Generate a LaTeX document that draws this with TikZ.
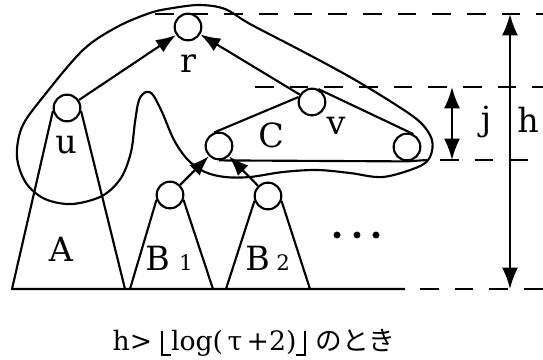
\documentclass[tikz,border=0pt]{standalone}
\usepackage{fontspec}
\setmainfont{DejaVu Serif}
\newfontfamily\jpfont{Noto Sans CJK JP}
\usepackage{tikz}
\usetikzlibrary{arrows.meta, positioning}
\newcommand{\flooropen}{\rule[-4pt]{1.2pt}{19pt}\rule[-4pt]{6pt}{1.2pt}}
\newcommand{\floorclose}{\rule[-4pt]{6pt}{1.2pt}\rule[-4pt]{1.2pt}{19pt}}
\tikzset{
  vtx/.style={circle, draw, line width=1.6pt, minimum size=20pt, inner sep=0pt},
  lbl/.style={font=\fontsize{25}{27}\selectfont, inner sep=0pt},
  line/.style={line width=1.6pt},
  edge/.style={line width=1.6pt, -{Latex[length=15pt,width=11pt]}},
  guide/.style={line width=1.6pt, dash pattern=on 14pt off 12pt},
  measure/.style={line width=1.6pt, {Latex[length=16pt,width=12pt]}-{Latex[length=16pt,width=12pt]}}
}

\begin{document}
\begin{tikzpicture}[x=0.75pt, y=-0.75pt, line join=round]
  \useasboundingbox (0,0) rectangle (543,360);

  % --- Sommets ---
  \node[vtx] (r) at (188,27) {};
  \node[vtx] (u) at (67,108) {};
  \node[vtx] (v) at (312,102) {};
  \node[vtx] (c) at (219,146) {};
  \node[vtx] (w) at (407,147) {};
  \node[vtx] (b1) at (170,195) {};
  \node[vtx] (b2) at (268,196) {};

  % --- Points de base ---
  \coordinate (a1) at (12,289);
  \coordinate (a2) at (125,289);
  \coordinate (b1l) at (130,289);
  \coordinate (b1r) at (213,289);
  \coordinate (b2l) at (226,289);
  \coordinate (b2r) at (310,289);
  \coordinate (bend) at (405,289);
  \coordinate (cend) at (427,160);

  % --- Sous-arbres ---
  \draw[line] (u.192) -- (a1) -- (bend);
  \draw[line] (u.-12) -- (a2);
  \draw[line] (b1.200) -- (b1l);
  \draw[line] (b1.-20) -- (b1r);
  \draw[line] (b2.200) -- (b2l);
  \draw[line] (b2.-20) -- (b2r);
  \draw[line] (c.110) -- (v.160);
  \draw[line] (v.64) -- (w.64);
  \draw[line] (c.south) -- (w.south) -- (cend);

  % --- Arcs ---
  \draw[edge] (u) -- (r);
  \draw[edge] (v) -- (r);
  \draw[edge] (b1) -- (c);
  \draw[edge] (b2) -- (c);

  % --- Contour ---
  \draw[line] plot[smooth cycle, tension=0.55] coordinates {
    (200,5) (225,9) (250,24) (300,50) (350,77) (393,103) (420,122)
    (432,140) (430,157) (418,167) (383,177) (350,173) (317,170)
    (283,172) (250,177) (225,177) (205,172) (188,160) (174,140)
    (162,112) (153,95) (146,92) (139,100) (135,122) (131,152)
    (121,178) (102,196) (72,204) (45,199) (26,183) (17,157)
    (22,127) (43,97) (83,50) (117,27) (150,13) (173,8)};

  % --- Niveaux ---
  \coordinate (t0) at (155,14);
  \coordinate (t1) at (543,14);
  \coordinate (m0) at (255,87);
  \coordinate (m1) at (543,87);
  \coordinate (l0) at (440,160);
  \coordinate (l1) at (543,160);
  \coordinate (z0) at (420,289);
  \coordinate (z1) at (543,289);
  \draw[guide] (t0) -- (t1);
  \draw[guide] (m0) -- (m1);
  \draw[guide] (l0) -- (l1);
  \draw[guide] (z0) -- (z1);

  \coordinate (htop) at (510,14);
  \coordinate (hbot) at (510,289);
  \coordinate (jtop) at (452,87);
  \coordinate (jbot) at (452,160);
  \draw[measure] (htop) -- (hbot);
  \draw[measure] (jtop) -- (jbot);

  % --- Etiquettes ---
  \node[lbl] (rl) at (188,64) {r};
  \node[lbl] (ul) at (66,145) {u};
  \node[lbl] (al) at (61,249) {A};
  \node[lbl] (cl) at (271,135) {C};
  \node[lbl] (vl) at (336,126) {v};
  \node[lbl] (jl) at (486,122) {j};
  \node[lbl] (hl) at (528,120) {h};
  \node[lbl, anchor=base west] (b1t) at (145,270) {B\hspace{7pt}{\fontsize{16}{18}\selectfont 1}};
  \node[lbl, anchor=base west] (b2t) at (245,270) {B\hspace{5pt}{\fontsize{16}{18}\selectfont 2}};

  \foreach \x in {337,357,376}
    \fill (\x,235) circle (2.6pt);

  \node[font=\fontsize{20}{22}\selectfont, inner sep=0pt] (cap) at (254,343)
    {h>\hspace{7pt}\flooropen log(\,τ\,+2)\floorclose\hspace{7pt}{\jpfont のとき}};

\end{tikzpicture}
\end{document}
